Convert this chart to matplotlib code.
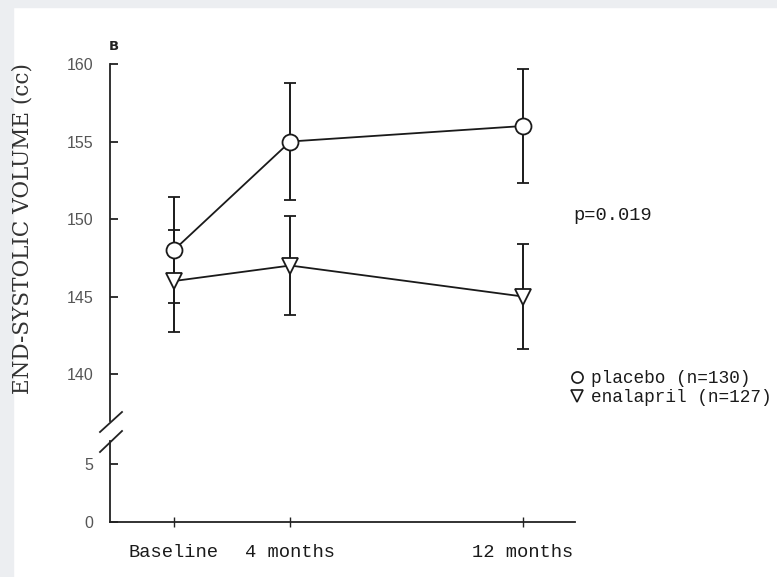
import numpy as np
import matplotlib
matplotlib.use("Agg")
import matplotlib.pyplot as plt
from matplotlib.lines import Line2D
from matplotlib.patches import Rectangle

# datos (volumen telesistolico, cc)
months = [0, 4, 12]
tick_labels = ["Baseline", "4 months", "12 months"]
placebo = [148, 155, 156]
placebo_err = [3.4, 3.8, 3.7]
enalapril = [146, 147, 145]
enalapril_err = [3.3, 3.2, 3.4]
upper_ticks = [140, 145, 150, 155, 160]
lower_ticks = [0, 5]
p_text = "p=0.019"
legend_labels = ["placebo (n=130)", "enalapril (n=127)"]

W, H = 777, 577
fig = plt.figure(figsize=(W / 100, H / 100), dpi=100)
fig.patch.set_facecolor("white")
# borde gris del escaneo
fig.patches.append(Rectangle((0, 0), 13 / W, 1, transform=fig.transFigure, color="#eceef1", zorder=0))
fig.patches.append(Rectangle((0, 1 - 7 / H), 1, 7 / H, transform=fig.transFigure, color="#eceef1", zorder=0))

mono = "Liberation Mono"
x0, x1 = 110 / W, 575 / W
ax_top = fig.add_axes([x0, 1 - 421 / H, x1 - x0, (421 - 64) / H])
ax_bot = fig.add_axes([x0, 1 - 522 / H, x1 - x0, (522 - 441) / H])

xlim = (-2.2, 13.79)
for ax in (ax_top, ax_bot):
    ax.set_xlim(*xlim)
    ax.set_facecolor("none")
    for s in ("top", "right"):
        ax.spines[s].set_visible(False)
    ax.spines["left"].set_linewidth(1.3)
    ax.spines["left"].set_color("#222222")
    ax.tick_params(axis="y", direction="in", length=6, width=1.3, pad=12,
                   labelsize=11.5, labelcolor="#555555", color="#222222")

ax_top.set_ylim(136.97, 160)
ax_top.spines["bottom"].set_visible(False)
ax_top.set_xticks([])
ax_top.set_yticks(upper_ticks)
ax_top.set_yticklabels([str(t) for t in upper_ticks], family="Liberation Sans")

ax_bot.set_ylim(0, 6.98)
ax_bot.set_yticks(lower_ticks)
ax_bot.set_yticklabels([str(t) for t in lower_ticks], family="Liberation Sans")
ax_bot.spines["bottom"].set_linewidth(1.3)
ax_bot.spines["bottom"].set_color("#222222")
ax_bot.set_xticks(months)
ax_bot.set_xticklabels(tick_labels, family=mono, fontsize=13.5, color="#1a1a1a")
ax_bot.tick_params(axis="x", direction="inout", length=7, width=1.0, pad=12, color="#222222")

# series con barras de error
ax_top.errorbar(months, placebo, yerr=placebo_err, fmt="-o", color="#1a1a1a", lw=1.3,
                elinewidth=1.4, capsize=4, capthick=2.2, ms=11.5, mfc="white", mec="#1a1a1a",
                mew=1.3, zorder=3, clip_on=False)
ax_top.errorbar(months, enalapril, yerr=enalapril_err, fmt="-v", color="#1a1a1a", lw=1.3,
                elinewidth=1.4, capsize=4, capthick=2.2, ms=11, mfc="white", mec="#1a1a1a",
                mew=1.3, zorder=3, clip_on=False)

# marcas de corte del eje
for (xa, ya, xb, yb) in [(100, 432, 122, 412), (100, 452, 122, 431)]:
    fig.add_artist(Line2D([xa / W, xb / W], [1 - ya / H, 1 - yb / H],
                          transform=fig.transFigure, color="#222222", lw=1.3))

fig.text(23 / W, 1 - 228 / H, "END-SYSTOLIC VOLUME (cc)", rotation=90, ha="center", va="center",
         family="DejaVu Serif", fontsize=15.5, color="#333333")
fig.text(114 / W, 1 - 47 / H, "B", ha="center", va="center", fontsize=9.5, weight="bold",
         family="DejaVu Sans", color="#222222")
fig.text(573 / W, 1 - 216 / H, p_text, ha="left", va="center", family=mono, fontsize=13.5,
         color="#1a1a1a")

handles = [Line2D([], [], ls="none", marker="o", ms=8, mfc="white", mec="#1a1a1a", mew=1.2),
           Line2D([], [], ls="none", marker="v", ms=8, mfc="white", mec="#1a1a1a", mew=1.2)]
leg = fig.legend(handles, legend_labels, loc="upper left", bbox_to_anchor=(562 / W, 1 - 361 / H),
                 frameon=False, handlelength=0.7, handletextpad=0.45, labelspacing=0.12,
                 borderpad=0, prop={"family": mono, "size": 12.8})
for t in leg.get_texts():
    t.set_color("#1a1a1a")

fig.savefig("out.png", dpi=100, facecolor="white")
